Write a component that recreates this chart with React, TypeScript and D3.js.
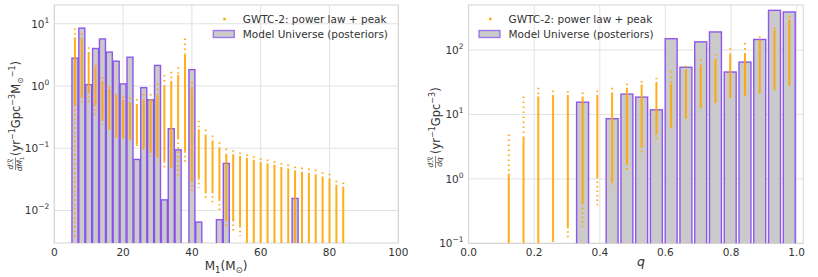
import React from "react";
import * as d3 from "d3";

// ---- left panel: primary mass ----
const massTicks = [0, 20, 40, 60, 80, 100];
const massLogTicks = [-2, -1, 0, 1];
const massBarCenters = [6, 8, 10, 12, 14, 16, 18, 20, 22, 24, 26, 28, 30, 32, 34, 36, 40, 42, 48, 50, 70];
const massBarHeights = [2.8, 8.5, 1.05, 4.0, 5.7, 3.5, 2.5, 1.08, 2.9, 0.066, 0.94, 0.6, 2.14, 0.0148, 0.206, 0.094, 1.83, 0.0065, 0.0071, 0.057, 0.0156];

// GWTC-2 samples per mass bin: highest dot, top of dense part, bottom of dense part, lowest dot
const massColM = [6, 8, 10, 12, 14, 16, 18, 20, 22, 24, 26, 28, 30, 32, 34, 36, 38, 40, 42, 44, 46, 48, 50, 52, 54, 56, 58, 60, 62, 64, 66, 68, 70, 72, 74, 76, 78, 80, 82, 84];
const massColTop = [8.5, 7.1, 4.2, 2.2, 1.4, 1.0, 0.74, 0.68, 0.66, 0.62, 0.74, 0.74, 1.1, 1.5, 1.7, 2.0, 5.8, 1.17, 0.275, 0.2, 0.16, 0.125, 0.098, 0.093, 0.085, 0.079, 0.074, 0.069, 0.066, 0.062, 0.058, 0.055, 0.051, 0.049, 0.047, 0.045, 0.041, 0.039, 0.03, 0.028];
const massColHi = [6.0, 5.6, 3.5, 2.0, 1.2, 0.9, 0.7, 0.6, 0.55, 0.5, 0.6, 0.6, 0.7, 1.0, 1.2, 1.5, 3.2, 0.9, 0.2, 0.16, 0.13, 0.1, 0.08, 0.08, 0.075, 0.07, 0.065, 0.06, 0.057, 0.054, 0.05, 0.047, 0.044, 0.042, 0.04, 0.038, 0.035, 0.033, 0.026, 0.024];
const massColLo = [0.5, 0.68, 0.81, 0.5, 0.29, 0.21, 0.155, 0.15, 0.14, 0.115, 0.1, 0.089, 0.074, 0.062, 0.051, 0.146, 0.089, 0.03, 0.033, 0.02, 0.02, 0.015, 0.007, 0.007, 0.0056, 0.002, 0.002, 0.002, 0.002, 0.002, 0.002, 0.002, 0.002, 0.002, 0.002, 0.002, 0.002, 0.002, 0.002, 0.002];
const massColBot = [0.0037, 0.56, 0.5, 0.32, 0.24, 0.18, 0.14, 0.13, 0.125, 0.1, 0.09, 0.074, 0.062, 0.048, 0.043, 0.035, 0.055, 0.02, 0.023, 0.016, 0.0135, 0.01, 0.005, 0.0045, 0.0039, 0.002, 0.002, 0.002, 0.002, 0.002, 0.002, 0.002, 0.002, 0.002, 0.002, 0.002, 0.002, 0.002, 0.002, 0.002];

// ---- right panel: mass ratio ----
const qTicks = [0.0, 0.2, 0.4, 0.6, 0.8, 1.0];
const qLogTicks = [-1, 0, 1, 2];
const qBarCenters = [0.3475, 0.4375, 0.4825, 0.5275, 0.5725, 0.6175, 0.6625, 0.7075, 0.7525, 0.7975, 0.8425, 0.8875, 0.9325, 0.9775];
const qBarHeights = [15.5, 8.6, 20.7, 18.6, 11.8, 150, 54, 134, 191, 45.6, 65, 146, 413, 390];

const qColQ = [0.1225, 0.1675, 0.2125, 0.2575, 0.3025, 0.3475, 0.3925, 0.4375, 0.4825, 0.5275, 0.5725, 0.6175, 0.6625, 0.7075, 0.7525, 0.7975, 0.8425, 0.8875, 0.9325, 0.9775];
const qColTop = [4.9, 19, 26, 23.5, 23, 22, 23.5, 26, 30, 33, 37, 47, 57, 72, 87, 107, 128, 163, 224, 333];
const qColHi = [1.2, 4.5, 19, 20, 20, 19, 20, 22, 26, 29, 32, 30, 50, 56, 71, 84, 90, 144, 207, 295];
const qColLo = [0.05, 0.05, 0.09, 0.11, 0.18, 0.42, 1.07, 0.9, 1.74, 3.2, 5.1, 6.5, 8.7, 12.6, 15, 18.3, 19.6, 21.5, 24, 29];
const qColBot = [0.05, 0.05, 0.09, 0.105, 0.12, 0.18, 0.39, 0.76, 1.4, 2.35, 3.8, 5.8, 8.5, 12.5, 15, 18, 19.5, 21, 24, 28];

const FONT = "DejaVu Sans";
const ORANGE = "#ffa500";
const PURPLE = "#8448ee";
const GRAY = "#cacaca";
const GRID = "#e2e2e2";

function Panel(props: any) {
  const { id, left, right, top, bottom, xDomain, yDomain, xTicks, xFmt, yExps, barCenters, barHeights, barWidth,
    colX, colTop, colHi, colLo, colBot, legendX } = props;
  const x = d3.scaleLinear().domain(xDomain).range([left, right]);
  const y = d3.scaleLog().domain(yDomain).range([bottom, top]);
  const yb = y(yDomain[0]);
  return (
    <g>
      <defs>
        <clipPath id={id}>
          <rect x={left} y={top} width={right - left} height={bottom - top} />
        </clipPath>
      </defs>
      {xTicks.map((t: number) => (
        <g key={"x" + t}>
          <line x1={x(t)} x2={x(t)} y1={top} y2={bottom} stroke={GRID} strokeWidth={1} />
          <text x={x(t)} y={bottom + 13} textAnchor="middle" fontSize={10.5} fill="#333" fontFamily={FONT}>{xFmt(t)}</text>
        </g>
      ))}
      {yExps.map((e: number) => (
        <g key={"y" + e}>
          <line x1={left} x2={right} y1={y(Math.pow(10, e))} y2={y(Math.pow(10, e))} stroke={GRID} strokeWidth={1} />
          <text x={left - 5} y={y(Math.pow(10, e)) + 4} textAnchor="end" fontSize={10.5} fill="#333" fontFamily={FONT}>
            10<tspan dy={-5} fontSize={7.5}>{e < 0 ? "\u2212" + Math.abs(e) : e}</tspan>
          </text>
        </g>
      ))}
      <rect x={left} y={top} width={right - left} height={bottom - top} fill="none" stroke="#d4d4d4" strokeWidth={1} />
      <g clipPath={`url(#${id})`}>
        {barCenters.map((c: number, i: number) => (
          <rect key={"b" + i} x={x(c - barWidth / 2)} y={y(barHeights[i])} width={x(c + barWidth / 2) - x(c - barWidth / 2)}
            height={yb - y(barHeights[i]) + 2} fill={GRAY} stroke={PURPLE} strokeWidth={1.4} strokeOpacity={0.9} />
        ))}
        {colX.map((c: number, i: number) => (
          <g key={"c" + i} stroke={ORANGE} strokeWidth={2} strokeOpacity={0.9}>
            <line x1={x(c)} x2={x(c)} y1={y(colTop[i])} y2={y(colHi[i])} strokeDasharray="1.5 3.5" />
            <line x1={x(c)} x2={x(c)} y1={y(colHi[i])} y2={y(colLo[i])} />
            <line x1={x(c)} x2={x(c)} y1={y(colLo[i])} y2={y(colBot[i])} strokeDasharray="1.5 3" />
          </g>
        ))}
      </g>
      <rect x={legendX + 10} y={17.8} width={2.4} height={2.4} fill={ORANGE} />
      <text x={legendX + 29.5} y={22.8} fontSize={10.5} fill="#333" fontFamily={FONT}>GWTC-2: power law + peak</text>
      <rect x={legendX} y={30.5} width={21} height={7} fill={GRAY} stroke={PURPLE} strokeWidth={1.4} strokeOpacity={0.7} />
      <text x={legendX + 29.5} y={37.8} fontSize={10.5} fill="#333" fontFamily={FONT}>Model Universe (posteriors)</text>
    </g>
  );
}

export default function App() {
  return (
    <svg width={818} height={277} style={{ position: "absolute", left: 0, top: 0, background: "#fff" }}>
      <Panel id="clipM" left={54.3} right={398.3} top={5} bottom={243} xDomain={[0, 100]} yDomain={[0.003, 20]}
        xTicks={massTicks} xFmt={(t: number) => String(t)} yExps={massLogTicks}
        barCenters={massBarCenters} barHeights={massBarHeights} barWidth={1.75}
        colX={massColM} colTop={massColTop} colHi={massColHi} colLo={massColLo} colBot={massColBot} legendX={213.3} />
      <Panel id="clipQ" left={468.6} right={803.2} top={5} bottom={243.3} xDomain={[0, 1.02]} yDomain={[0.1, 500]}
        xTicks={qTicks} xFmt={(t: number) => t.toFixed(1)} yExps={qLogTicks}
        barCenters={qBarCenters} barHeights={qBarHeights} barWidth={0.0365}
        colX={qColQ} colTop={qColTop} colHi={qColHi} colLo={qColLo} colBot={qColBot} legendX={479} />
      {/* x labels */}
      <text x={226} y={270} textAnchor="middle" fontSize={12} fill="#333" fontFamily={FONT}>
        M<tspan dy={3} fontSize={8.5}>1</tspan><tspan dy={-3}>(M</tspan><tspan dy={3} fontSize={8.5}>{"\u2299"}</tspan><tspan dy={-3}>)</tspan>
      </text>
      <text x={641} y={266} textAnchor="middle" fontSize={12.5} fontStyle="italic" fill="#333" fontFamily={FONT}>q</text>
      {/* y labels */}
      <g transform="translate(17,170) rotate(-90)" fill="#333" fontFamily={FONT}>
        <text x={6} y={-4} textAnchor="middle" fontSize={7.5} fontStyle="italic">d{"\u211B"}</text>
        <line x1={0} x2={12.5} y1={-1.5} y2={-1.5} stroke="#333" strokeWidth={0.6} />
        <text x={6} y={5} textAnchor="middle" fontSize={7.5}><tspan fontStyle="italic">dM</tspan><tspan dy={1.5} fontSize={5.5}>1</tspan></text>
        <text x={14} y={3} fontSize={11.5}>
          (yr<tspan dy={-5} fontSize={8}>{"\u22121"}</tspan><tspan dy={5}>Gpc</tspan><tspan dy={-5} fontSize={8}>{"\u22123"}</tspan>
          <tspan dy={5}>M</tspan><tspan dy={3} fontSize={8}>{"\u2299"}</tspan><tspan dy={-8} fontSize={8}>{"\u22121"}</tspan><tspan dy={5}>)</tspan>
        </text>
      </g>
      <g transform="translate(437,168) rotate(-90)" fill="#333" fontFamily={FONT}>
        <text x={6} y={-4} textAnchor="middle" fontSize={7.5} fontStyle="italic">d{"\u211B"}</text>
        <line x1={0} x2={12} y1={-1.5} y2={-1.5} stroke="#333" strokeWidth={0.6} />
        <text x={6} y={5} textAnchor="middle" fontSize={7.5} fontStyle="italic">dq</text>
        <text x={14} y={3} fontSize={11.5}>
          (yr<tspan dy={-5} fontSize={8}>{"\u22121"}</tspan><tspan dy={5}>Gpc</tspan><tspan dy={-5} fontSize={8}>{"\u22123"}</tspan><tspan dy={5}>)</tspan>
        </text>
      </g>
    </svg>
  );
}
